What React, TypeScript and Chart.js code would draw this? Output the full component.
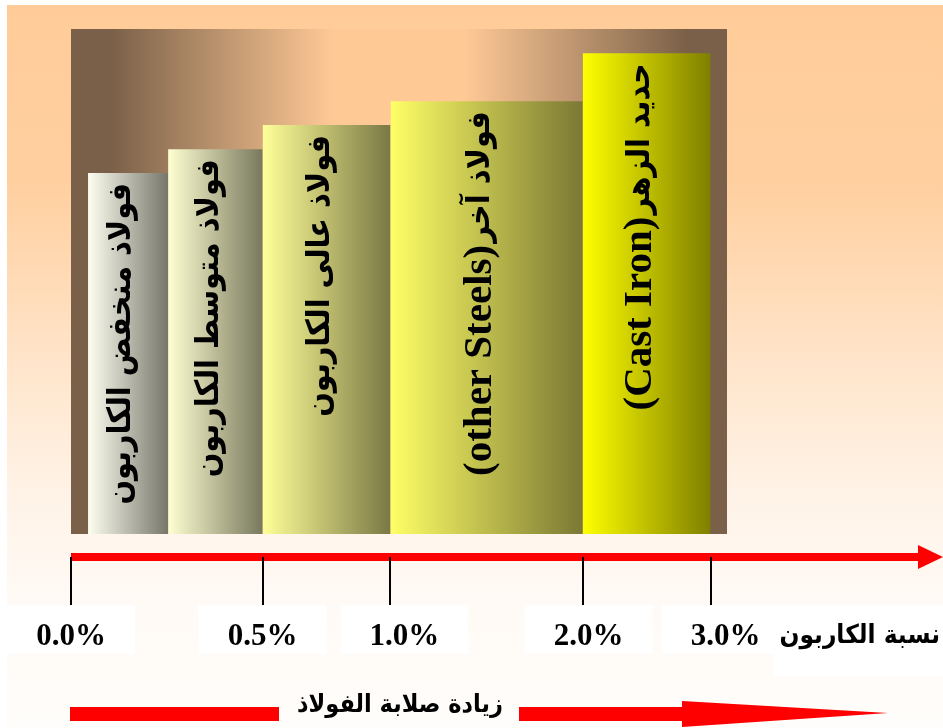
import React, { useEffect, useRef } from "react";
import { Chart, registerables } from "chart.js";

Chart.register(...registerables);

// ---- data ----
const barLabels = [
  "فولاذ منخفض الكاربون",
  "فولاذ متوسط الكاربون",
  "فولاذ عالى الكاربون",
  "فولاذ آخر(other Steels)",
  "حديد الزهر(Cast Iron)",
];
// bar extents along the (schematic) carbon axis, in axis units
const barStart = [0.26, 1.48, 2.92, 4.87, 7.8];
const barEnd = [1.48, 2.92, 4.87, 7.8, 9.75];
// relative bar heights (0..100)
const barHeight = [71.5, 76.2, 81.0, 85.7, 95.2];
// carbon axis ticks
const tickPos = [0, 2.92, 4.87, 7.8, 9.75];
const tickLabels = ["0.0%", "0.5%", "1.0%", "2.0%", "3.0%"];
const axisTitle = "نسبة الكاربون";
const hardnessTitle = "زيادة صلابة الفولاذ";

// ---- styles ----
const barColorsLeft = ["#FDFDF0", "#FFFFD2", "#FFFF99", "#FFFF66", "#FFFF00"];
const barColorsRight = ["#76766A", "#78785E", "#7A7844", "#7A7834", "#7F7F00"];
const labelNudge = [0, 0, 14, 6, 15];
const ARABIC_FONT = "'DejaVu Sans Condensed', 'DejaVu Sans', sans-serif";
const pageStops: [number, string][] = [
  [5, "#FFCC99"],
  [180, "#FFCF9F"],
  [300, "#FFDDBB"],
  [400, "#FFE9D3"],
  [500, "#FFF3E8"],
  [600, "#FFFAF5"],
  [728, "#FFFDFB"],
];

function barGradient(chart: any, i: number) {
  const area = chart.chartArea;
  const xs = chart.scales?.x;
  if (!area || !xs) return barColorsLeft[i];
  const x0 = xs.getPixelForValue(barStart[i]);
  const x1 = xs.getPixelForValue(barEnd[i]);
  const g = chart.ctx.createLinearGradient(x0, 0, x1, 0);
  g.addColorStop(0, barColorsLeft[i]);
  g.addColorStop(1, barColorsRight[i]);
  return g;
}

const backgroundPlugin = {
  id: "bgPlugin",
  beforeDraw(chart: any) {
    const { ctx, width, height, chartArea } = chart;
    ctx.save();
    ctx.fillStyle = "#FFFFFF";
    ctx.fillRect(0, 0, width, height);
    const bg = ctx.createLinearGradient(0, 5, 0, height);
    pageStops.forEach(([y, c]) => bg.addColorStop((y - 5) / (height - 5), c));
    ctx.fillStyle = bg;
    ctx.fillRect(7, 5, width - 7, height - 5);

    const { left, top, right, bottom } = chartArea;
    const pg = ctx.createLinearGradient(left, 0, right, 0);
    pg.addColorStop(0, "#7A6048");
    pg.addColorStop(0.06, "#7A6048");
    pg.addColorStop(0.4, "#FFC996");
    pg.addColorStop(0.6, "#FFC996");
    pg.addColorStop(0.94, "#7A6048");
    pg.addColorStop(1, "#7A6048");
    ctx.fillStyle = pg;
    ctx.fillRect(left, top, right - left, bottom - top);
    ctx.restore();
  },
  afterDatasetsDraw(chart: any) {
    const { ctx } = chart;
    const xs = chart.scales.x;
    const ys = chart.scales.y;
    ctx.save();
    ctx.fillStyle = "#000000";
    ctx.textBaseline = "middle";
    ctx.textAlign = "right";
    (ctx as any).direction = "rtl";
    barLabels.forEach((lab, i) => {
      const cx = (xs.getPixelForValue(barStart[i]) + xs.getPixelForValue(barEnd[i])) / 2 - 6;
      const ty = ys.getPixelForValue(barHeight[i]) + 10;
      const k = lab.indexOf("(");
      const arabic = k >= 0 ? lab.slice(0, k) : lab;
      const latin = k >= 0 ? lab.slice(k) : "";
      ctx.save();
      ctx.translate(cx, ty);
      ctx.rotate(-Math.PI / 2);
      ctx.font = "bold 32px " + ARABIC_FONT;
      ctx.fillText(arabic, 0, 0);
      const wA = ctx.measureText(arabic).width;
      if (latin) {
        ctx.font = "bold 41px 'Liberation Serif', serif";
        ctx.fillText(latin, -wA - 2, 0);
      }
      ctx.restore();
    });
    ctx.restore();
  },
  afterDraw(chart: any) {
    const { ctx, width, chartArea } = chart;
    const xs = chart.scales.x;
    ctx.save();
    // carbon arrow
    const ay = chartArea.bottom + 23;
    const x0 = xs.getPixelForValue(0);
    ctx.fillStyle = "#FF0000";
    ctx.fillRect(x0, ay - 4, width - 25 - x0, 8);
    ctx.beginPath();
    ctx.moveTo(width - 25, ay - 12);
    ctx.lineTo(width, ay);
    ctx.lineTo(width - 25, ay + 12);
    ctx.closePath();
    ctx.fill();

    // label boxes
    ctx.fillStyle = "#FFFFFF";
    tickPos.forEach((p, i) => {
      const lx = xs.getPixelForValue(p) + labelNudge[i];
      ctx.fillRect(lx - 64, 605, 128, 49);
    });
    ctx.fillRect(774, 605, width - 774, 71);

    // ticks
    ctx.strokeStyle = "#000000";
    ctx.lineWidth = 2;
    tickPos.forEach((p) => {
      const tx = Math.round(xs.getPixelForValue(p));
      ctx.beginPath();
      ctx.moveTo(tx, ay);
      ctx.lineTo(tx, 605);
      ctx.stroke();
    });

    // tick labels
    ctx.fillStyle = "#000000";
    ctx.font = "bold 31px 'Liberation Serif', serif";
    ctx.textAlign = "center";
    ctx.textBaseline = "alphabetic";
    tickPos.forEach((p, i) => {
      const lx = xs.getPixelForValue(p) + labelNudge[i];
      ctx.fillText(tickLabels[i], lx, 645);
    });

    // axis title
    (ctx as any).direction = "rtl";
    ctx.font = "bold 26px " + ARABIC_FONT;
    ctx.textAlign = "right";
    ctx.fillText(axisTitle, 940, 643);

    // hardness arrow
    ctx.fillStyle = "#FF0000";
    ctx.fillRect(70, 707, 209, 14);
    ctx.fillRect(519, 707, 163, 14);
    ctx.beginPath();
    ctx.moveTo(682, 701);
    ctx.lineTo(888, 713);
    ctx.lineTo(682, 727);
    ctx.closePath();
    ctx.fill();

    ctx.fillStyle = "#000000";
    ctx.font = "bold 25px " + ARABIC_FONT;
    ctx.textAlign = "center";
    ctx.textBaseline = "middle";
    ctx.fillText(hardnessTitle, 400, 705);
    ctx.restore();
  },
};

export default function App() {
  const ref = useRef<HTMLCanvasElement | null>(null);
  useEffect(() => {
    if (!ref.current) return;
    const chart = new Chart(ref.current, {
      type: "line",
      data: {
        datasets: barLabels.map((lab, i) => ({
          label: lab,
          data: [
            { x: barStart[i], y: 0 },
            { x: barStart[i], y: barHeight[i] },
            { x: barEnd[i], y: barHeight[i] },
            { x: barEnd[i], y: 0 },
          ],
          fill: "origin",
          borderWidth: 0,
          borderColor: "transparent",
          pointRadius: 0,
          tension: 0,
          backgroundColor: (c: any) => barGradient(c.chart, i),
        })),
      },
      options: {
        animation: false,
        responsive: false,
        events: [],
        layout: { padding: { left: 71, top: 29, right: 216, bottom: 194 } },
        plugins: { legend: { display: false }, tooltip: { enabled: false }, title: { display: false } },
        scales: {
          x: { type: "linear", min: 0, max: 10, display: false },
          y: { type: "linear", min: 0, max: 100, display: false },
        },
      },
      plugins: [backgroundPlugin],
    } as any);
    return () => chart.destroy();
  }, []);
  return (
    <div style={{ position: "fixed", left: 0, top: 0, width: 943, height: 728 }}>
      <canvas ref={ref} width={943} height={728} style={{ width: 943, height: 728, display: "block" }} />
    </div>
  );
}
